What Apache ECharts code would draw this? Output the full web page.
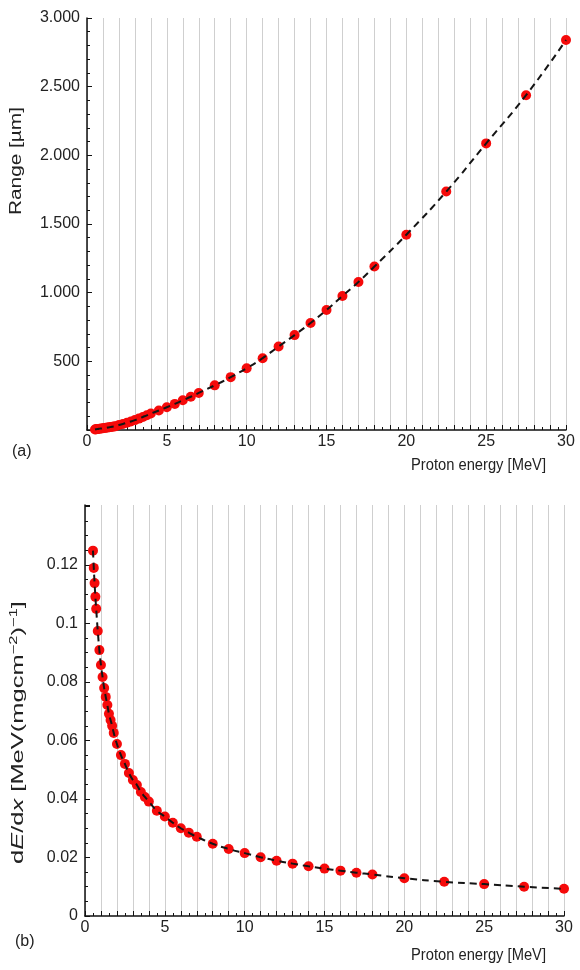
<!DOCTYPE html>
<html>
<head>
<meta charset="utf-8">
<script src="https://cdn.jsdelivr.net/npm/echarts@6/dist/echarts.min.js"></script>
<style>
  html, body { margin: 0; padding: 0; background: #fff; }
  #chart { width: 580px; height: 970px; }
</style>
</head>
<body>
<div id="chart"></div>
<script>
// proton energies (MeV), same for both panels
let energy = [0.5, 0.55, 0.6, 0.65, 0.7, 0.8, 0.9, 1.0, 1.1, 1.2, 1.3, 1.4, 1.5, 1.6, 1.7, 1.8,
  2.0, 2.25, 2.5, 2.75, 3.0, 3.25, 3.5, 3.75, 4.0, 4.5, 5.0, 5.5, 6.0, 6.5, 7.0, 8, 9,
  10, 11, 12, 13, 14, 15, 16, 17, 18, 20, 22.5, 25, 27.5, 30]
// (a) range in um
let range = [4, 5, 6, 7, 8, 10, 11, 13, 14, 16, 18, 20, 22, 24, 26, 28,
  36, 44, 53, 62, 72, 83, 95, 107, 120, 142, 166, 190, 216, 242, 270, 325, 385,
  450, 523, 608, 691, 779, 874, 976, 1078, 1190, 1422, 1736, 2087, 2438, 2840]
// (b) stopping power in MeV/(mg cm^-2)
let stopping = [0.1249, 0.1190, 0.1138, 0.1091, 0.1050, 0.0974, 0.0909, 0.0858, 0.0817, 0.0779, 0.0749, 0.0721, 0.0691, 0.0670, 0.0650, 0.0626,
  0.0588, 0.0550, 0.0520, 0.0489, 0.0465, 0.0448, 0.0424, 0.0407, 0.0391, 0.0360, 0.0340, 0.0319, 0.0300, 0.0285, 0.0271, 0.0247, 0.0229,
  0.0215, 0.0201, 0.0189, 0.0179, 0.0170, 0.0162, 0.0155, 0.0148, 0.0142, 0.0129, 0.0117, 0.0109, 0.0100, 0.0093]

let font = 'Liberation Sans, Arial, Helvetica, sans-serif'
let textColor = '#222'

function xAxisOf (gridIndex) {
  return {
    gridIndex: gridIndex,
    type: 'value',
    min: 0,
    max: 30,
    interval: 1,
    axisLine: { lineStyle: { color: '#111', width: 1.5 } },
    axisTick: { inside: true, length: 5, lineStyle: { color: '#111' } },
    minorTick: { show: true, splitNumber: 2, length: 3, lineStyle: { color: '#111' } },
    splitLine: { show: true, lineStyle: { color: '#cfcfcf', width: 1 } },
    axisLabel: {
      color: textColor,
      fontFamily: font,
      fontSize: 16,
      margin: 4,
      formatter: function (v) {
        return v % 5 === 0 ? '' + v : ''
      }
    }
  }
}

let dataA = energy.map((e, i) => [e, range[i]])
let dataB = energy.map((e, i) => [e, stopping[i]])

function seriesOf (idx, data) {
  return [{
    type: 'scatter',
    xAxisIndex: idx,
    yAxisIndex: idx,
    data: data,
    symbol: 'circle',
    symbolSize: 10,
    itemStyle: { color: '#f50a0a', opacity: 1 },
    z: 3
  }, {
    type: 'line',
    xAxisIndex: idx,
    yAxisIndex: idx,
    data: data,
    showSymbol: false,
    smooth: true,
    lineStyle: { color: '#151515', width: 2, type: [7, 5] },
    z: 4
  }]
}

let myChart = echarts.init(document.getElementById('chart'), null, { renderer: 'canvas' })
let option = {
  backgroundColor: '#fff',
  animation: false,
  grid: [
    { left: 87, right: 14, top: 18, height: 412 },
    { left: 85, right: 16, top: 505, height: 411 }
  ],
  xAxis: [xAxisOf(0), xAxisOf(1)],
  yAxis: [{
    gridIndex: 0,
    type: 'value',
    min: 0,
    max: 3000,
    interval: 500,
    axisLine: { show: true, lineStyle: { color: '#111', width: 1.5 } },
    axisTick: { show: true, inside: true, length: 5, lineStyle: { color: '#111' } },
    minorTick: { show: true, splitNumber: 5, length: 3, lineStyle: { color: '#111' } },
    splitLine: { show: false },
    axisLabel: {
      color: textColor,
      fontFamily: font,
      fontSize: 16,
      margin: 7,
      formatter: function (v) {
        if (v === 0) return ''
        if (v >= 1000) return Math.floor(v / 1000) + '.' + ('' + (v % 1000)).padStart(3, '0')
        return '' + v
      }
    }
  }, {
    gridIndex: 1,
    type: 'value',
    min: 0,
    max: 0.1405,
    interval: 0.02,
    axisLine: { show: true, lineStyle: { color: '#111', width: 1.5 } },
    axisTick: { show: true, inside: true, length: 5, lineStyle: { color: '#111' } },
    minorTick: { show: true, splitNumber: 4, length: 3, lineStyle: { color: '#111' } },
    splitLine: { show: false },
    axisLabel: {
      color: textColor,
      fontFamily: font,
      fontSize: 16,
      margin: 7,
      showMaxLabel: false,
      formatter: function (v) {
        if (v > 0.13) return ''
        return '' + parseFloat(v.toFixed(3))
      }
    }
  }],
  series: seriesOf(0, dataA).concat(seriesOf(1, dataB)),
  graphic: [
    {
      type: 'text', x: 9, y: 215, rotation: Math.PI / 2, scaleX: 1.3,
      style: { text: 'Range [µm]', fontFamily: font, fontSize: 16, fill: textColor }
    },
    {
      type: 'text', x: 8, y: 864, rotation: Math.PI / 2, scaleX: 1.5,
      style: {
        text: 'd{i|E}/d{i|x} [MeV(mgcm{sup|−2}){sup|−1}]',
        fontFamily: font, fontSize: 17, fill: textColor,
        rich: {
          i: { fontFamily: font, fontSize: 17, fontStyle: 'italic', fill: textColor },
          sup: { fontFamily: font, fontSize: 11, fill: textColor, padding: [0, 0, 10, 0] }
        }
      }
    },
    {
      type: 'text', x: 546, y: 466, scaleX: 0.92,
      style: { text: 'Proton energy [MeV]', fontFamily: font, fontSize: 16, fill: textColor, align: 'right', verticalAlign: 'middle' }
    },
    {
      type: 'text', x: 546, y: 956, scaleX: 0.92,
      style: { text: 'Proton energy [MeV]', fontFamily: font, fontSize: 16, fill: textColor, align: 'right', verticalAlign: 'middle' }
    },
    {
      type: 'text', x: 12, y: 452,
      style: { text: '(a)', fontFamily: font, fontSize: 16, fill: textColor, verticalAlign: 'middle' }
    },
    {
      type: 'text', x: 15, y: 942,
      style: { text: '(b)', fontFamily: font, fontSize: 16, fill: textColor, verticalAlign: 'middle' }
    }
  ]
}
myChart.setOption(option)
</script>
</body>
</html>
